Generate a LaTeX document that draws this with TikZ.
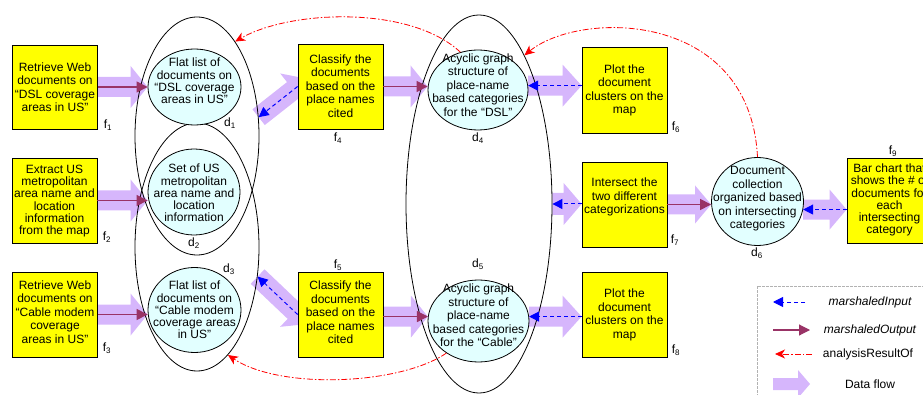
\documentclass[tikz,border=0pt]{standalone}
\usepackage{fontspec}
\setmainfont{Liberation Sans}
\usetikzlibrary{shapes.geometric,arrows.meta,calc,backgrounds}
\definecolor{lav}{RGB}{214,182,252}
\definecolor{dcyan}{RGB}{226,255,255}
\definecolor{mpurple}{RGB}{153,51,102}
\definecolor{byellow}{RGB}{255,255,0}
\newcommand\fsA{\fontsize{12}{13.5}\selectfont}
\newcommand\fsB{\fontsize{12}{12.2}\selectfont}
\newcommand\fatarr[5]{%
 \coordinate (faA) at (#1);
 \coordinate (faB) at (#2);
 \coordinate (faH) at ($(faB)!#5!(faA)$);
 \fill[lav] ($(faA)!#3!90:(faB)$) -- ($(faH)!#3!90:(faB)$) -- ($(faH)!#4!90:(faB)$) -- (faB) -- ($(faH)!#4!-90:(faB)$) -- ($(faH)!#3!-90:(faB)$) -- ($(faA)!#3!-90:(faB)$) -- cycle;}
\tikzset{
 fnode/.style={draw=black, line width=0.8pt, fill=byellow, minimum width=85pt, minimum height=85pt, inner sep=0pt},
 dnode/.style={ellipse, draw=black, line width=0.8pt, fill=dcyan, inner sep=0pt},
 onode/.style={ellipse, draw=black, line width=0.8pt, inner sep=0pt},
 txt/.style={align=center, inner sep=0pt, font=\fsA},
 txtB/.style={align=center, inner sep=0pt, font=\fsB},
 lbl/.style={inner sep=0pt, font=\fontsize{12}{14}\selectfont},
 mout/.style={draw=mpurple, line width=1.1pt, -{Triangle[length=11pt,width=11pt]}},
 minp/.style={draw=blue, line width=1pt, dash pattern=on 4pt off 3pt, -{Triangle[length=10pt,width=10pt]}},
 ares/.style={draw=red, line width=0.8pt, dash pattern=on 6pt off 2pt on 1.5pt off 2pt, -{Stealth[length=10pt,width=9pt,inset=3pt]}},
}
\begin{document}
\begin{tikzpicture}[x=1pt,y=-1pt]
\useasboundingbox (0,0) rectangle (923,395);
% outer ellipses
\node[onode, minimum width=124pt, minimum height=238pt] (D1o) at (197,136) {};
\node[onode, minimum width=124pt, minimum height=248pt] (D3o) at (197,247) {};
\node[onode, minimum width=146pt, minimum height=378pt] (D45) at (479,204) {};
% data nodes
\node[dnode, minimum width=93pt, minimum height=76pt] (d1) at (194.5,87) {};
\node[dnode, minimum width=92pt, minimum height=86pt] (d2) at (194,192) {};
\node[dnode, minimum width=93pt, minimum height=85pt] (d3) at (194.5,310) {};
\node[dnode, minimum width=100pt, minimum height=80pt] (d4) at (478,90) {};
\node[dnode, minimum width=101pt, minimum height=82pt] (d5) at (478.5,321) {};
\node[dnode, minimum width=92pt, minimum height=88pt] (d6) at (757.5,201.5) {};
% function boxes
\node[fnode, minimum height=84pt] (f1) at (55,87) {};
\node[fnode] (f2) at (54.5,200.5) {};
\node[fnode] (f3) at (55,314.5) {};
\node[fnode] (f4) at (340.5,86.5) {};
\node[fnode] (f5) at (340.5,314.5) {};
\node[fnode, minimum height=86pt] (f6) at (624.5,90) {};
\node[fnode] (f7) at (624.5,204.5) {};
\node[fnode] (f8) at (624.5,314.5) {};
\node[fnode] (f9) at (889.5,200.5) {};
% texts
\node[txt] (f1t) at (55,87) {Retrieve Web\\documents on\\“DSL coverage\\areas in US”};
\node[txtB] (f2t) at (54.5,201) {Extract US\\metropolitan\\area name and\\location\\information\\from the map};
\node[txt] (f3t) at (55,312) {Retrieve Web\\documents on\\“Cable modem\\coverage\\areas in US”};
\node[txtB] (d1t) at (194.5,81) {Flat list of\\documents on\\“DSL coverage\\areas in US”};
\node[txtB] (d2t) at (194,193) {Set of US\\metropolitan\\area name and\\location\\information};
\node[txtB] (d3t) at (194.5,310) {Flat list of\\documents on\\“Cable modem\\coverage areas\\in US”};
\node[txt] (f4t) at (340.5,86) {Classify the\\documents\\based on the\\place names\\cited};
\node[txt] (f5t) at (340.5,312.5) {Classify the\\documents\\based on the\\place names\\cited};
\node[txt] (d4t) at (478,85) {Acyclic graph\\structure of\\place-name\\based categories\\for the “DSL”};
\node[txt] (d5t) at (478.5,315.5) {Acyclic graph\\structure of\\place-name\\based categories\\for the “Cable”};
\node[txt] (f6t) at (624.5,90.5) {Plot the\\document\\clusters on the\\map};
\node[txt] (f7t) at (624.5,197) {Intersect the\\two different\\categorizations};
\node[txt] (f8t) at (624.5,315) {Plot the\\document\\clusters on the\\map};
\node[txt] (d6t) at (757.5,199) {Document\\collection\\organized based\\on intersecting\\categories};
\node[txtB] (f9t) at (889.5,200) {Bar chart that\\shows the \# of\\documents for\\each\\intersecting\\category};
% labels
\node[lbl] (lf1) at (108,125) {f\textsubscript{1}};
\node[lbl] (lf2) at (107,237) {f\textsubscript{2}};
\node[lbl] (lf3) at (107,348) {f\textsubscript{3}};
\node[lbl] (lf4) at (338,138) {f\textsubscript{4}};
\node[lbl] (lf5) at (338,265) {f\textsubscript{5}};
\node[lbl] (lf6) at (676,127) {f\textsubscript{6}};
\node[lbl] (lf7) at (675,240) {f\textsubscript{7}};
\node[lbl] (lf8) at (676,350) {f\textsubscript{8}};
\node[lbl] (lf9) at (893,151) {f\textsubscript{9}};
\node[lbl] (ld1) at (230,123) {d\textsubscript{1}};
\node[lbl] (ld2) at (194,243) {d\textsubscript{2}};
\node[lbl] (ld3) at (229,269) {d\textsubscript{3}};
\node[lbl] (ld4) at (478,138) {d\textsubscript{4}};
\node[lbl] (ld5) at (478,264) {d\textsubscript{5}};
\node[lbl] (ld6) at (757,253) {d\textsubscript{6}};
% legend coordinates
\coordinate (L1a) at (805,302); \coordinate (L1b) at (773,302);
\coordinate (L2a) at (773,330); \coordinate (L2b) at (810,330);
\coordinate (L3a) at (812,354); \coordinate (L3b) at (775,354);
\coordinate (L4a) at (773,384); \coordinate (L4b) at (810,384);
% data flow (background)
\begin{scope}[on background layer]
 \fatarr{f1.east}{d1.west}{10pt}{21pt}{17pt}
 \fatarr{f2.east}{f2.east -| d2.west}{10pt}{21pt}{17pt}
 \fatarr{f3.east}{f3.east -| d3.west}{10pt}{21pt}{17pt}
 \fatarr{D1o.17}{$(D1o.17)!1.25!(f4.west)$}{10pt}{21pt}{18pt}
 \fatarr{D3o.-26}{$(D3o.-26)!1.25!(f5.west)$}{10pt}{21pt}{18pt}
 \fatarr{f4.east}{f4.east -| d4.west}{10pt}{21pt}{17pt}
 \fatarr{f5.east |- d5.175}{d5.175}{10pt}{21pt}{17pt}
 \fatarr{d4.5}{d4.5 -| f6.west}{10pt}{21pt}{19pt}
 \fatarr{d5.5}{d5.5 -| f8.west}{10pt}{21pt}{19pt}
 \fatarr{D45.east}{D45.east -| f7.west}{11pt}{21pt}{18pt}
 \fatarr{f7.east}{f7.east -| d6.west}{10pt}{19pt}{16pt}
 \fatarr{d6.-10}{d6.-10 -| f9.west}{10pt}{20pt}{17pt}
 \fatarr{L4a}{L4b}{6pt}{14pt}{12pt}
\end{scope}
% marshaledOutput
\draw[mout] (f1.east) -- (d1.west);
\draw[mout] (f2.east) -- (f2.east -| d2.west);
\draw[mout] (f3.east) -- (f3.east -| d3.west);
\draw[mout] (f4.east) -- (f4.east -| d4.west);
\draw[mout] (f5.east |- d5.175) -- (d5.175);
\draw[mout] (f7.east) -- (f7.east -| d6.west);
% marshaledInput
\draw[minp] (f4.west) -- (D1o.17);
\draw[minp] (f5.west) -- (D3o.-26);
\draw[minp] (d4.5 -| f6.west) -- (d4.5);
\draw[minp] (d5.5 -| f8.west) -- (d5.5);
\draw[minp] (D45.east -| f7.west) -- (D45.east);
\draw[minp] (d6.-10 -| f9.west) -- (d6.-10);
% analysisResultOf
\draw[ares] (d4.115) .. controls (410,5) and (290,10) .. (D1o.68);
\draw[ares] (d6.north) .. controls (750,10) and (580,10) .. (D45.73);
\draw[ares] (d5.225) .. controls (400,385) and (280,390) .. (D3o.-74);
% legend
\draw[gray!60, line width=1pt, dash pattern=on 3pt off 1pt] (757,286) rectangle (935,400);
\draw[minp] (L1a) -- (L1b);
\draw[mout] (L2a) -- (L2b);
\draw[ares] (L3a) -- (L3b);
\node[lbl, font=\fontsize{12}{14}\selectfont\itshape] (Lt1) at (870,302) {marshaledInput};
\node[lbl, font=\fontsize{12}{14}\selectfont\itshape] (Lt2) at (870,330) {marshaledOutput};
\node[lbl] (Lt3) at (868,354) {analysisResultOf};
\node[lbl] (Lt4) at (870,384) {Data flow};
\end{tikzpicture}
\end{document}
